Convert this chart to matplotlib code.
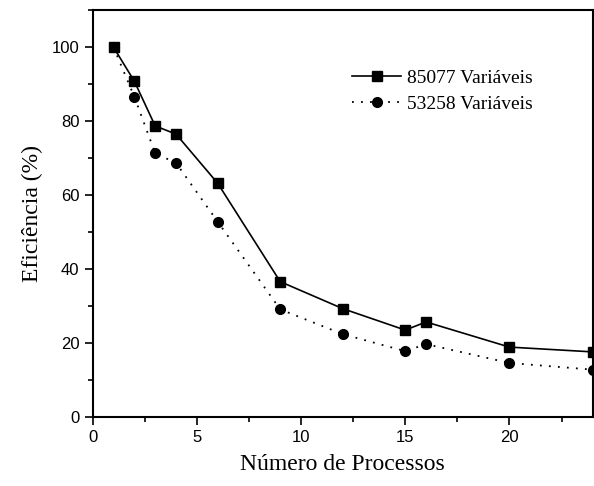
import matplotlib
matplotlib.use('Agg')
import matplotlib.pyplot as plt
from matplotlib.ticker import MultipleLocator

processos = [1, 2, 3, 4, 6, 9, 12, 15, 16, 20, 24]
efic_85077 = [100, 90.8, 78.7, 76.5, 63.2, 36.6, 29.3, 23.5, 25.7, 18.9, 17.6]
efic_53258 = [100, 86.6, 71.3, 68.7, 52.8, 29.1, 22.4, 17.8, 19.7, 14.6, 12.8]

serif = ['Liberation Serif', 'DejaVu Serif']
sans = ['Liberation Sans', 'DejaVu Sans']

fig = plt.figure(figsize=(5.94, 4.86), dpi=100)
ax = fig.add_axes([0.156, 0.142, 0.842, 0.837])

ax.plot(processos, efic_85077, color='black', linewidth=1.2, marker='s',
        markersize=6.5, label='85077 Variáveis')
ax.plot(processos, efic_53258, color='black', linewidth=1.3, linestyle=(0, (1, 4)),
        marker='o', markersize=7, label='53258 Variáveis')

ax.set_xlim(0, 24)
ax.set_ylim(0, 110)
ax.xaxis.set_major_locator(MultipleLocator(5))
ax.xaxis.set_minor_locator(MultipleLocator(2.5))
ax.yaxis.set_major_locator(MultipleLocator(20))
ax.yaxis.set_minor_locator(MultipleLocator(10))
ax.tick_params(which='both', direction='out', width=1.2, top=False, right=False)
ax.tick_params(which='major', length=6, labelsize=12)
ax.tick_params(which='minor', length=3.5)
for lab in ax.get_xticklabels() + ax.get_yticklabels():
    lab.set_family(sans)
for sp in ax.spines.values():
    sp.set_linewidth(1.5)

ax.set_xlabel('Número de Processos', family=serif, fontsize=17, labelpad=6)
ax.set_ylabel('Eficiência (%)', family=serif, fontsize=17, labelpad=6)

leg = ax.legend(loc='upper left', bbox_to_anchor=(0.519, 0.855), frameon=False,
                prop={'family': serif, 'size': 14}, handlelength=2.5,
                handletextpad=0.3, labelspacing=0.45, borderpad=0,
                borderaxespad=0)

fig.savefig('out.png', dpi=100)
